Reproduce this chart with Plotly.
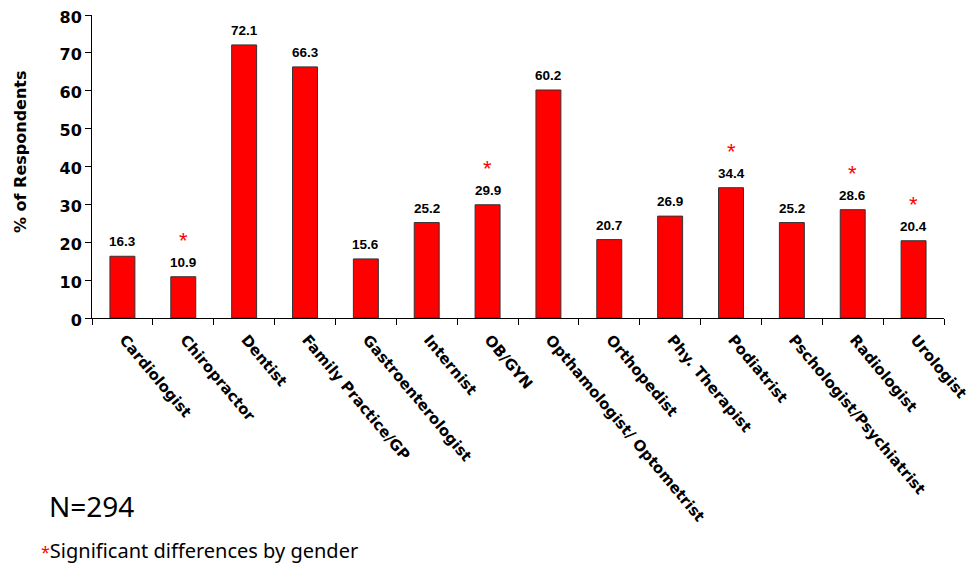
import plotly.graph_objects as go

categories = ["Cardiologist", "Chiropractor", "Dentist", "Family Practice/GP",
              "Gastroenterologist", "Internist", "OB/GYN", "Opthamologist/ Optometrist",
              "Orthopedist", "Phy. Therapist", "Podiatrist", "Pschologist/Psychiatrist",
              "Radiologist", "Urologist"]
values = [16.3, 10.9, 72.1, 66.3, 15.6, 25.2, 29.9, 60.2, 20.7, 26.9, 34.4, 25.2, 28.6, 20.4]
significant = [False, True, False, False, False, False, True, False, False, False, True, False, True, True]
y_ticks = [0, 10, 20, 30, 40, 50, 60, 70, 80]

# the page body adds an 8px offset; lay out the figure in page pixels minus that offset
OFF = 8
W, H = 974 - OFF, 564 - OFF
ml, mt = 92 - OFF, 15 - OFF
pw, ph = 944 - 92, 318 - 15
mr = W - ml - pw
mb = H - mt - ph

def px_to_paper(xp, yp):
    # xp, yp are page pixel coordinates
    return (xp - OFF - ml) / pw, (mt + ph - (yp - OFF)) / ph

fig = go.Figure()
fig.add_trace(go.Bar(
    x=categories, y=values, width=0.41,
    marker=dict(color="#ff0000", line=dict(color="#333333", width=1)),
    showlegend=False, hoverinfo="skip",
))

annotations = []
for c, v, s in zip(categories, values, significant):
    annotations.append(dict(x=c, y=v, xref="x", yref="y", text=f"{v:.1f}",
                            showarrow=False, yanchor="bottom", yshift=5,
                            font=dict(family="Liberation Sans, Arial", size=13.5, color="#000000", weight="bold")))
    if s:
        annotations.append(dict(x=c, y=v, xref="x", yref="y", text="*",
                                showarrow=False, yanchor="middle", yshift=36,
                                font=dict(family="Liberation Sans, Arial", size=22, color="#ff0000")))

tx, ty = px_to_paper(20, 152)
annotations.append(dict(x=tx, y=ty, xref="paper", yref="paper", text="% of Respondents",
                        textangle=-90, showarrow=False, xanchor="center", yanchor="middle",
                        font=dict(family="DejaVu Sans", size=16, color="#000000", weight="bold")))
nx, ny = px_to_paper(47, 506)
annotations.append(dict(x=nx, y=ny, xref="paper", yref="paper", text="N=294",
                        showarrow=False, xanchor="left", yanchor="middle",
                        font=dict(family="Noto Sans", size=28, color="#000000")))
fx, fy = px_to_paper(39, 550)
annotations.append(dict(x=fx, y=fy, xref="paper", yref="paper",
                        text="<span style='color:#ff0000;font-size:16px'>*</span>Significant differences by gender",
                        showarrow=False, xanchor="left", yanchor="middle",
                        font=dict(family="Noto Sans", size=20, color="#000000")))

fig.update_layout(
    width=W, height=H,
    margin=dict(l=ml, r=mr, t=mt, b=mb, autoexpand=False),
    plot_bgcolor="white", paper_bgcolor="white",
    annotations=annotations,
    xaxis=dict(
        automargin=False,
        showline=True, linecolor="#000000", linewidth=1,
        ticks="outside", tickson="boundaries", ticklen=6, tickcolor="#000000",
        tickangle=50, showgrid=False, ticklabelstandoff=6, ticklabelshift=2,
        ticklabeloverflow="allow",
        tickfont=dict(family="DejaVu Sans", size=15, color="#000000", weight="bold"),
    ),
    yaxis=dict(
        automargin=False, ticklabeloverflow="allow", ticklabelshift=2,
        range=[0, 80], tickvals=y_ticks, showline=True, linecolor="#000000", linewidth=1,
        ticks="outside", ticklen=6, tickcolor="#000000", showgrid=False, zeroline=False,
        tickfont=dict(family="DejaVu Sans", size=16, color="#000000", weight="bold"),
    ),
)

fig.write_html("out.html")
